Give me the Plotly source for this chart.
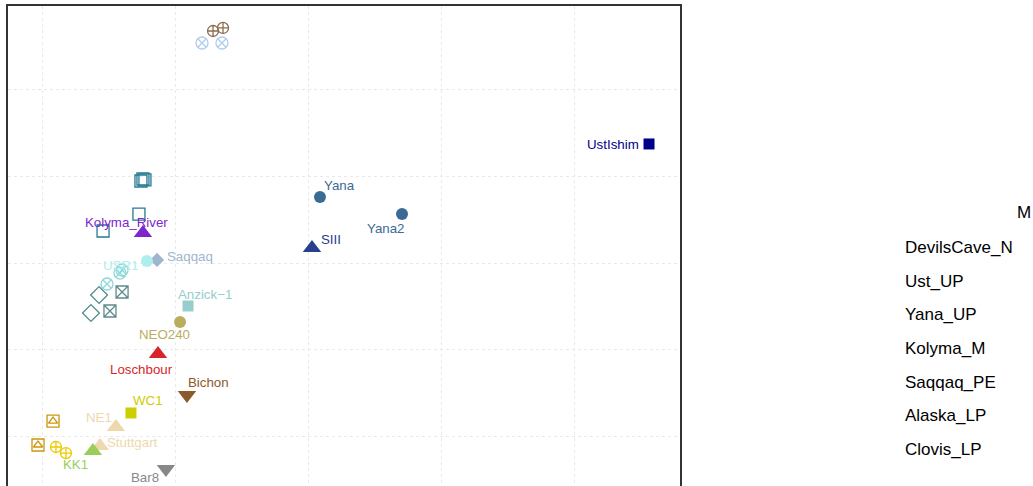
import plotly.graph_objects as go

# PCA coordinates of ancient samples (grid step = 1 unit on both axes)
sample = [
    "DC1", "DC2", "DC3", "DC4",
    "UstIshim", "Yana", "Yana2", "SIII",
    "KM1", "KM2", "KM3", "KM4", "KM5", "Kolyma_River",
    "Saqqaq", "USR1", "AK1", "AK2", "AK3",
    "CL1", "CL2", "CL3", "CL4",
    "Anzick-1", "NEO240", "Loschbour", "Bichon", "WC1",
    "NE1", "Stuttgart", "KK1", "Bar8",
    "AL1", "AL2", "GD1", "GD2",
]
pc1 = [
    1.286, 1.361, 1.203, 1.353,
    4.564, 2.090, 2.707, 2.030,
    0.744, 0.759, 0.774, 0.729, 0.459, 0.759,
    0.865, 0.789, 0.586, 0.602, 0.489,
    0.429, 0.368, 0.602, 0.511,
    1.098, 1.038, 0.872, 1.090, 0.669,
    0.556, 0.436, 0.383, 0.932,
    0.083, -0.030, 0.105, 0.180,
]
pc2 = [
    4.682, 4.717, 4.543, 4.543,
    3.376, 2.763, 2.566, 2.173,
    2.948, 2.971, 2.960, 2.566, 2.370, 2.347,
    2.035, 2.023, 1.884, 1.919, 1.757,
    1.630, 1.422, 1.665, 1.445,
    1.503, 1.318, 0.948, 0.474, 0.266,
    0.104, -0.116, -0.173, -0.382,
    0.173, -0.104, -0.127, -0.197,
]
group = [
    "DevilsCave_N", "DevilsCave_N", "Ust_UP", "Ust_UP",
    "UstIshim", "Yana", "Yana", "SIII",
    "Kolyma_M", "Kolyma_M", "Kolyma_M", "Kolyma_M", "Kolyma_M", "Kolyma_River",
    "Saqqaq", "USR1", "Saqqaq_PE", "Saqqaq_PE", "Saqqaq_PE",
    "Clovis_D", "Clovis_D", "Clovis_X", "Clovis_X",
    "Anzick-1", "NEO240", "Loschbour", "Bichon", "WC1",
    "NE1", "Stuttgart", "KK1", "Bar8",
    "Alaska_LP", "Alaska_LP", "Clovis_LP", "Clovis_LP",
]
labelled = [
    "UstIshim", "Yana", "Yana2", "SIII", "Kolyma_River", "Saqqaq", "USR1",
    "Anzick-1", "NEO240", "Loschbour", "Bichon", "WC1", "NE1", "Stuttgart",
    "KK1", "Bar8",
]
legend_labels = ["DevilsCave_N", "Ust_UP", "Yana_UP", "Kolyma_M",
                 "Saqqaq_PE", "Alaska_LP", "Clovis_LP"]

# marker styling per group: (symbols, colour, size)
style = {
    "DevilsCave_N": (["circle-cross-open"], "#8C6D4F", 11),
    "Ust_UP": (["circle-x-open"], "#AFCDED", 12),
    "UstIshim": (["square"], "#00008B", 11),
    "Yana": (["circle"], "#3B6A93", 12),
    "SIII": (["triangle-up"], "#27408B", 16),
    "Kolyma_M": (["square-open"], "#257A92", 12),
    "Kolyma_River": (["triangle-up"], "#7D26CD", 16),
    "Saqqaq": (["diamond"], "#9FB6CD", 11),
    "USR1": (["circle"], "#AEEEEE", 12),
    "Saqqaq_PE": (["circle-x-open"], "#8FD8D8", 12),
    "Clovis_D": (["diamond-open"], "#528B8B", 13),
    "Clovis_X": (["square-x-open"], "#5E8B8B", 12),
    "Anzick-1": (["square"], "#96CDCD", 11),
    "NEO240": (["circle"], "#B8AE5E", 12),
    "Loschbour": (["triangle-up"], "#D7262B", 16),
    "Bichon": (["triangle-down"], "#8B5A2B", 16),
    "WC1": (["square"], "#CDCD00", 11),
    "NE1": (["triangle-up"], "#EED8AE", 16),
    "Stuttgart": (["triangle-up"], "#EED8AE", 16),
    "KK1": (["triangle-up"], "#9ACD5A", 16),
    "Bar8": (["triangle-down"], "#888888", 16),
    "Alaska_LP": (["square-open", "triangle-up-open"], "#CD950C", 12),
    "Clovis_LP": (["circle-cross-open"], "#EEC900", 11),
}
# label placement relative to its point, in pixels: (xshift, yshift, xanchor)
label_offset = {
    "UstIshim": (-8, -1, "right"),
    "Yana": (2, 12, "left"),
    "Yana2": (-17, -14, "center"),
    "SIII": (7, 9, "left"),
    "Kolyma_River": (-16, 10, "center"),
    "Saqqaq": (8, 3, "left"),
    "USR1": (-26, -4, "center"),
    "Anzick-1": (17, 11, "center"),
    "NEO240": (-16, -13, "center"),
    "Loschbour": (-16, -15, "center"),
    "Bichon": (22, 13, "center"),
    "WC1": (17, 12, "center"),
    "NE1": (-17, 10, "center"),
    "Stuttgart": (33, 4, "center"),
    "KK1": (-17, -14, "center"),
    "Bar8": (-21, -8, "center"),
}

FONT = "Liberation Sans, Arial, Helvetica, sans-serif"
fig = go.Figure()

for g, (symbols, colour, size) in style.items():
    idx = [i for i, gg in enumerate(group) if gg == g]
    xs = [pc1[i] for i in idx]
    ys = [pc2[i] for i in idx]
    for k, sym in enumerate(symbols):
        s = size if k == 0 else size - 4
        fig.add_trace(go.Scatter(
            x=xs, y=ys, mode="markers", showlegend=False, hoverinfo="skip",
            marker=dict(symbol=sym, color=colour, size=s,
                        line=dict(color=colour, width=1.3 if "open" in sym else 0)),
        ))

for name in labelled:
    i = sample.index(name)
    colour = style[group[i]][1]
    dx, dy, anchor = label_offset[name]
    text = name.replace("-", "\u2212")
    fig.add_annotation(x=pc1[i], y=pc2[i], text=text, showarrow=False,
                       xshift=dx, yshift=dy, xanchor=anchor, yanchor="middle",
                       font=dict(family=FONT, size=13.3, color=colour))

# legend column at the right
for k, lab in enumerate(legend_labels):
    fig.add_annotation(xref="paper", yref="paper", x=1.3318, y=0.497 - k * 0.0701,
                       text=lab, showarrow=False, xanchor="left", yanchor="middle",
                       font=dict(family=FONT, size=17, color="black"))
fig.add_annotation(xref="paper", yref="paper", x=1.4985, y=0.569, text="M",
                   showarrow=False, xanchor="left", yanchor="middle",
                   font=dict(family=FONT, size=17, color="black"))

fig.update_layout(
    width=1033, height=486,
    margin=dict(l=8, r=353, t=6, b=0),
    paper_bgcolor="white", plot_bgcolor="white",
    xaxis=dict(range=[-0.2556, 4.797], dtick=1, tick0=0, side="top",
               showgrid=True, gridcolor="#E9E9E9", griddash="dot", gridwidth=1,
               zeroline=False, showticklabels=False, ticks="",
               showline=True, linecolor="#333333", linewidth=1.5, mirror=False),
    yaxis=dict(range=[-0.578, 4.971], dtick=1, tick0=0,
               showgrid=True, gridcolor="#E9E9E9", griddash="dot", gridwidth=1,
               zeroline=False, showticklabels=False, ticks="",
               showline=True, linecolor="#333333", linewidth=1.5, mirror=True),
)

fig.write_html("out.html")
